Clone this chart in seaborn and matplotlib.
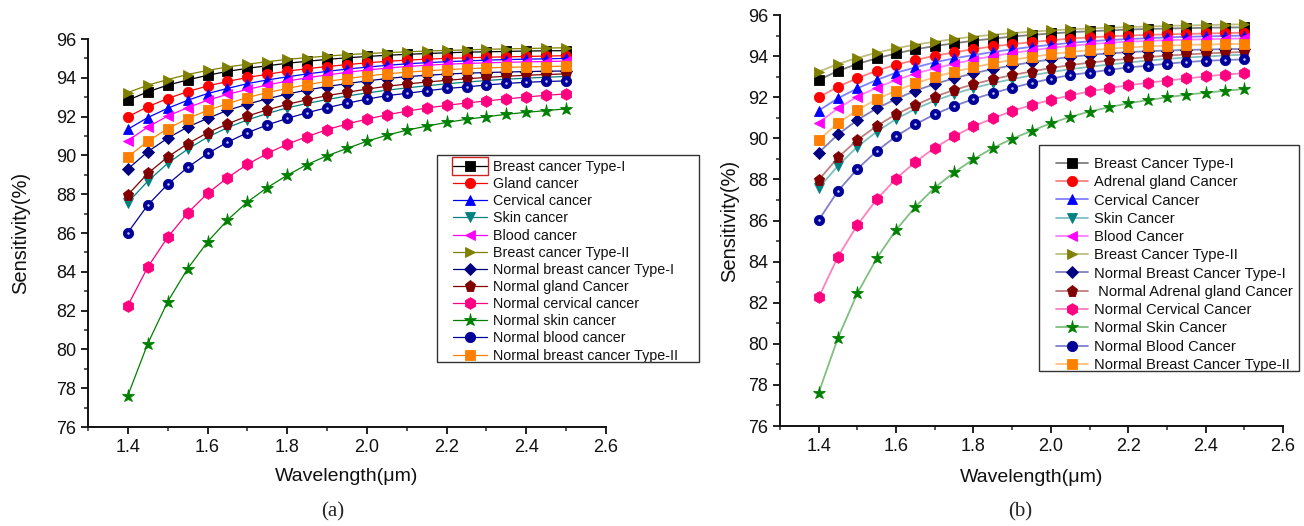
import matplotlib
matplotlib.use("Agg")
import matplotlib.pyplot as plt
from matplotlib.colors import to_rgba
from matplotlib.patches import Rectangle
from matplotlib.ticker import MultipleLocator
import seaborn as sns

# Wavelength grid (µm)
wavelength = [1.40, 1.45, 1.50, 1.55, 1.60, 1.65, 1.70, 1.75, 1.80, 1.85, 1.90, 1.95,
              2.00, 2.05, 2.10, 2.15, 2.20, 2.25, 2.30, 2.35, 2.40, 2.45, 2.50]

# Sensitivity (%) of each analyte
breast_type1 = [92.84, 93.28, 93.62, 93.89, 94.13, 94.33, 94.49, 94.62, 94.75, 94.85, 94.95, 95.03,
                95.10, 95.16, 95.21, 95.25, 95.29, 95.32, 95.34, 95.36, 95.38, 95.39, 95.40]
gland = [91.99, 92.51, 92.93, 93.29, 93.58, 93.81, 94.02, 94.18, 94.34, 94.47, 94.58, 94.68,
         94.77, 94.85, 94.91, 94.96, 95.00, 95.03, 95.06, 95.08, 95.10, 95.12, 95.14]
cervical = [91.35, 91.95, 92.43, 92.84, 93.19, 93.45, 93.70, 93.89, 94.05, 94.20, 94.33, 94.45,
            94.55, 94.64, 94.72, 94.78, 94.83, 94.87, 94.91, 94.94, 94.96, 94.98, 95.00]
skin = [87.57, 88.67, 89.59, 90.32, 90.94, 91.43, 91.83, 92.16, 92.45, 92.68, 92.88, 93.06,
        93.22, 93.36, 93.48, 93.59, 93.69, 93.78, 93.86, 93.93, 93.98, 94.03, 94.07]
blood = [90.76, 91.46, 92.03, 92.46, 92.84, 93.15, 93.40, 93.63, 93.83, 94.00, 94.15, 94.28,
         94.40, 94.50, 94.58, 94.65, 94.70, 94.74, 94.77, 94.80, 94.82, 94.84, 94.86]
breast_type2 = [93.24, 93.62, 93.91, 94.17, 94.38, 94.56, 94.70, 94.83, 94.95, 95.04, 95.12, 95.19,
                95.25, 95.30, 95.34, 95.38, 95.41, 95.44, 95.47, 95.49, 95.51, 95.53, 95.55]
normal_breast_type1 = [89.30, 90.19, 90.89, 91.46, 91.91, 92.32, 92.64, 92.92, 93.16, 93.37, 93.55, 93.70,
                       93.84, 93.96, 94.06, 94.13, 94.19, 94.24, 94.27, 94.30, 94.32, 94.34, 94.35]
normal_gland = [87.97, 89.07, 89.92, 90.60, 91.17, 91.62, 92.03, 92.35, 92.63, 92.87, 93.08, 93.25,
                93.42, 93.56, 93.68, 93.78, 93.87, 93.95, 94.02, 94.08, 94.13, 94.17, 94.20]
normal_cervical = [82.26, 84.24, 85.78, 87.03, 88.04, 88.85, 89.54, 90.10, 90.58, 90.97, 91.33, 91.62,
                   91.87, 92.09, 92.28, 92.44, 92.58, 92.70, 92.81, 92.91, 93.01, 93.10, 93.17]
normal_skin = [77.62, 80.30, 82.46, 84.16, 85.54, 86.67, 87.60, 88.34, 88.98, 89.53, 89.98, 90.36,
               90.73, 91.04, 91.30, 91.51, 91.70, 91.86, 91.99, 92.12, 92.22, 92.31, 92.40]
normal_blood = [86.02, 87.44, 88.51, 89.38, 90.10, 90.68, 91.17, 91.57, 91.91, 92.20, 92.46, 92.69,
                92.90, 93.08, 93.20, 93.33, 93.45, 93.53, 93.63, 93.71, 93.77, 93.81, 93.84]
normal_breast_type2 = [89.92, 90.73, 91.38, 91.90, 92.32, 92.67, 92.98, 93.24, 93.45, 93.65, 93.81, 93.96,
                       94.09, 94.20, 94.29, 94.36, 94.42, 94.47, 94.51, 94.54, 94.56, 94.58, 94.60]

labels_a = ["Breast cancer Type-I", "Gland cancer", "Cervical cancer", "Skin cancer",
            "Blood cancer", "Breast cancer Type-II", "Normal breast cancer Type-I",
            "Normal gland Cancer", "Normal cervical cancer", "Normal skin cancer",
            "Normal blood cancer", "Normal breast cancer Type-II"]
labels_b = ["Breast Cancer Type-I", "Adrenal gland Cancer", "Cervical Cancer", "Skin Cancer",
            "Blood Cancer", "Breast Cancer Type-II", "Normal Breast Cancer Type-I",
            " Normal Adrenal gland Cancer", "Normal Cervical Cancer", "Normal Skin Cancer",
            "Normal Blood Cancer", "Normal Breast Cancer Type-II"]

series = [breast_type1, gland, cervical, skin, blood, breast_type2, normal_breast_type1,
          normal_gland, normal_cervical, normal_skin, normal_blood, normal_breast_type2]
colors = ["#000000", "#FF0000", "#0000FF", "#008080", "#FF00FF", "#808000",
          "#000080", "#800000", "#FF0080", "#008000", "#000099", "#FF8000"]
markers = ["s", "o", "^", "v", "<", ">", "D", "p", "h", "*", "o", "s"]
msizes = [6.6, 7.4, 7.6, 7.6, 7.6, 7.6, 6.4, 8.2, 8.4, 9.6, 7.4, 6.6]

sns.set_style("ticks")
plt.rcParams["font.family"] = ["Liberation Sans", "DejaVu Sans"]
plt.rcParams["axes.linewidth"] = 1.4

W, H = 1304, 526
fig = plt.figure(figsize=(W / 100, H / 100), dpi=100)


def px_axes(left, right, top, bottom):
    return fig.add_axes([left / W, 1 - bottom / H, (right - left) / W, (bottom - top) / H])


ax_a = px_axes(88, 606, 39, 427)
ax_b = px_axes(780, 1283, 15, 426)


def draw_panel(ax, labels, line_alpha, lw):
    for vals, lab, c, m, ms in zip(series, labels, colors, markers, msizes):
        sns.lineplot(x=wavelength, y=vals, ax=ax, color=to_rgba(c, line_alpha), linewidth=lw,
                     marker=m, markersize=ms, markerfacecolor=c, markeredgecolor=c,
                     markeredgewidth=0.6, label=lab)
    # glossy highlight on the ball markers
    ax.plot(wavelength, normal_blood, linestyle="none", marker="o", markersize=1.8,
            markerfacecolor="#c8c8ff", markeredgecolor="none", label="_nolegend_")

    ax.set_xlim(1.3, 2.6)
    ax.set_ylim(76, 96)
    ax.xaxis.set_minor_locator(MultipleLocator(0.1))
    ax.yaxis.set_major_locator(MultipleLocator(2))
    ax.yaxis.set_minor_locator(MultipleLocator(1))
    ax.set_xticks([1.4, 1.6, 1.8, 2.0, 2.2, 2.4, 2.6])
    ax.set_xticklabels(["1.4", "1.6", "1.8", "2.0", "2.2", "2.4", "2.6"])
    ax.tick_params(which="major", direction="out", length=5, width=1.3, labelsize=13, colors="#111111")
    ax.tick_params(which="minor", direction="out", length=3, width=1.1)
    sns.despine(ax=ax)
    for s in ("left", "bottom"):
        ax.spines[s].set_color("#111111")
    ax.set_xlabel("Wavelength(μm)", fontsize=14, color="#111111")
    ax.set_ylabel("Sensitivity(%)", fontsize=14.5, color="#111111")


draw_panel(ax_a, labels_a, 1.0, 0.9)
draw_panel(ax_b, labels_b, 0.5, 1.3)

ax_a.xaxis.set_label_coords(0.5, -0.105)
ax_a.yaxis.set_label_coords(-0.112, 0.5)
ax_b.xaxis.set_label_coords(0.5, -0.105)
ax_b.yaxis.set_label_coords(-0.081, 0.5)


def framed_legend(ax, box, handle_x, fontsize, rowgap, first_row_y, hlen):
    left, top, right, bottom = box
    handles, labs = ax.get_legend_handles_labels()
    fig.patches.append(Rectangle((left / W, 1 - bottom / H), (right - left) / W, (bottom - top) / H,
                                 transform=fig.transFigure, fill=False, edgecolor="#333333",
                                 linewidth=1.0))
    leg = ax.legend(handles, labs, loc="upper left",
                    bbox_to_anchor=(handle_x / W, 1 - (first_row_y - 6) / H),
                    bbox_transform=fig.transFigure, frameon=False, fontsize=fontsize,
                    handlelength=hlen, handletextpad=0.4, labelspacing=rowgap,
                    borderpad=0.0, borderaxespad=0.0)
    for t in leg.get_texts():
        t.set_color("#111111")
    return leg


framed_legend(ax_a, (437, 155, 699, 362), 453, 10.3, 0.22, 166, 2.4)
framed_legend(ax_b, (1039, 145, 1299, 371), 1056, 10.6, 0.29, 163, 2.2)

# selection outline drawn around the first legend key of panel (a)
fig.patches.append(Rectangle((452 / W, 1 - 175 / H), 36 / W, 18 / H, transform=fig.transFigure,
                             fill=False, edgecolor="#cc2222", linewidth=1.0))

fig.text(333 / W, 1 - 512 / H, "(a)", family="Liberation Serif", fontsize=15, ha="center", va="center")
fig.text(1020 / W, 1 - 512 / H, "(b)", family="Liberation Serif", fontsize=15, ha="center", va="center")

fig.savefig("out.png", dpi=100, facecolor="white")
